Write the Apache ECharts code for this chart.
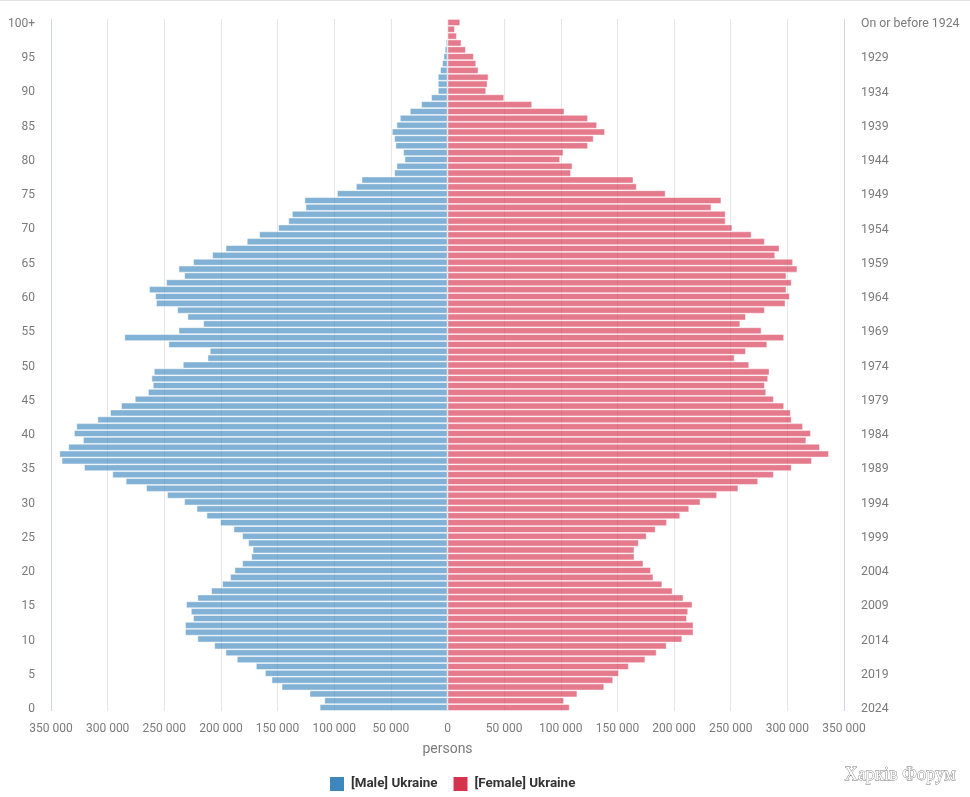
<!DOCTYPE html>
<html>
<head>
<meta charset="utf-8" />
<title>Ukraine population pyramid</title>
<script src="https://cdn.jsdelivr.net/npm/echarts@6/dist/echarts.min.js"></script>
<style>
  html, body { margin: 0; padding: 0; background: #fff; }
  #pyramid { width: 970px; height: 797px; }
</style>
</head>
<body>
<div id="pyramid"></div>
<script>
  // index 0 = age 0 ... index 100 = age 100+
  const male = [
    112800, 108700, 121700, 146400, 155300, 161100, 169100, 185900, 195900, 205900,
    220700, 231600, 231600, 224500, 226500, 230700, 220700, 208600, 198900, 191800,
    188000, 181200, 173200, 172000, 175900, 181200, 188800, 200600, 212700, 221500,
    232400, 247500, 266000, 284000, 295800, 320800, 340600, 342600, 334700, 321700,
    329700, 327600, 309000, 297800, 288100, 276000, 264300, 260100, 261300, 259200,
    233600, 211800, 209800, 246300, 285200, 237400, 215600, 229500, 238600, 257200,
    258000, 263400, 248300, 232400, 237400, 224500, 207700, 195900, 177100, 166200,
    149400, 140500, 137300, 125300, 126200, 97500, 80800, 75800, 47000, 45000,
    37900, 39100, 45900, 47000, 49100, 45000, 42000, 33200, 23200, 14400,
    8500, 8500, 8500, 6500, 4700, 3500, 2400, 1500, 0, 0,
    0,
  ];
  const female = [
    107800, 102800, 114600, 138300, 146200, 151200, 160000, 174600, 184600, 193400,
    207200, 217100, 217100, 211300, 212400, 216200, 208300, 198700, 189600, 181700,
    179600, 172900, 165000, 165000, 168800, 175800, 183700, 193700, 205400, 213300,
    223300, 237900, 256700, 274200, 288000, 303800, 321700, 336700, 328700, 316700,
    320800, 313800, 303800, 303000, 297100, 288000, 281300, 280100, 283000, 284200,
    266300, 253400, 263400, 282200, 297100, 277200, 258400, 263400, 280100, 298300,
    302100, 299200, 303800, 299200, 308800, 305000, 289200, 293000, 280100, 268400,
    251400, 245500, 245500, 232900, 241700, 192500, 167000, 164100, 109000, 110300,
    99400, 102300, 124000, 129000, 139000, 132000, 124000, 103200, 74700, 50000,
    34100, 35300, 36200, 27300, 25300, 23200, 16200, 12300, 8200, 6500,
    11200,
  ];

  const ages = male.map((_, i) => (i === 100 ? "100+" : String(i)));
  const births = male.map((_, i) => (i === 100 ? "On or before 1924" : String(2024 - i)));

  const textColor = "#7b7b7b";
  const gridColor = "#e6e6e6";
  const edgeColor = "#ccd6eb";

  const myChart = echarts.init(document.getElementById("pyramid"));

  const makeSeries = (name, color, values) => ({
    name: name,
    type: "bar",
    stack: "pop",
    barWidth: 6.85,
    data: values,
    itemStyle: {
      color: color,
      opacity: 0.65,
      borderColor: "#fff",
      borderWidth: 0.75,
    },
    emphasis: { disabled: true },
  });

  let option = {
    animation: false,
    textStyle: { fontFamily: "Roboto" },
    grid: { left: 51, right: 126, top: 19, bottom: 86, containLabel: false },
    legend: {
      left: 325,
      top: 772,
      itemWidth: 14,
      itemHeight: 14,
      itemGap: 16,
      icon: "rect",
      textStyle: {
        fontFamily: "Roboto",
        fontSize: 13.4,
        fontWeight: "bold",
        color: "#333",
        padding: [0, 0, 0, 2],
      },
      data: [
        { name: "[Male] Ukraine", itemStyle: { color: "#3d87bd", opacity: 1, borderWidth: 0 } },
        { name: "[Female] Ukraine", itemStyle: { color: "#d6334f", opacity: 1, borderWidth: 0 } },
      ],
    },
    xAxis: {
      type: "value",
      min: -350000,
      max: 350000,
      interval: 50000,
      name: "persons",
      nameLocation: "middle",
      nameGap: 31,
      nameTextStyle: { color: textColor, fontSize: 14 },
      axisLine: { show: false },
      axisTick: { show: false },
      axisLabel: {
        color: textColor,
        fontSize: 12,
        margin: 12,
        formatter: v => String(Math.abs(v)).replace(/\B(?=(\d{3})+$)/g, " "),
      },
      splitLine: {
        show: true,
        lineStyle: {
          color: [edgeColor, ...Array(13).fill(gridColor), edgeColor],
          width: 1,
        },
      },
    },
    yAxis: [
      {
        type: "category",
        position: "left",
        data: ages,
        axisLine: { show: false },
        axisTick: { show: false },
        axisLabel: {
          interval: 4,
          margin: 16,
          formatter: "{a|{value}}",
          rich: { a: { color: textColor, fontSize: 12, padding: [3, 0, 0, 0] } },
        },
      },
      {
        type: "category",
        position: "right",
        data: births,
        axisLine: { show: false },
        axisTick: { show: false },
        axisLabel: {
          interval: 4,
          margin: 17,
          formatter: "{a|{value}}",
          rich: { a: { color: textColor, fontSize: 12.3, padding: [3, 0, 0, 0] } },
        },
      },
    ],
    series: [
      makeSeries("[Male] Ukraine", "#3d87bd", male.map(v => -v)),
      makeSeries("[Female] Ukraine", "#d6334f", female),
    ],
    graphic: [
      { type: "rect", left: 0, top: 0, shape: { width: 970, height: 1 }, style: { fill: "#e3e3e3" } },
      {
        type: "text",
        left: 844,
        top: 766,
        style: {
          text: "Харків Форум",
          font: "18.4px 'Liberation Serif'",
          fill: "#fff",
          stroke: "#777",
          lineWidth: 0.8,
        },
      },
    ],
  };
  myChart.setOption(option);
</script>
</body>
</html>
